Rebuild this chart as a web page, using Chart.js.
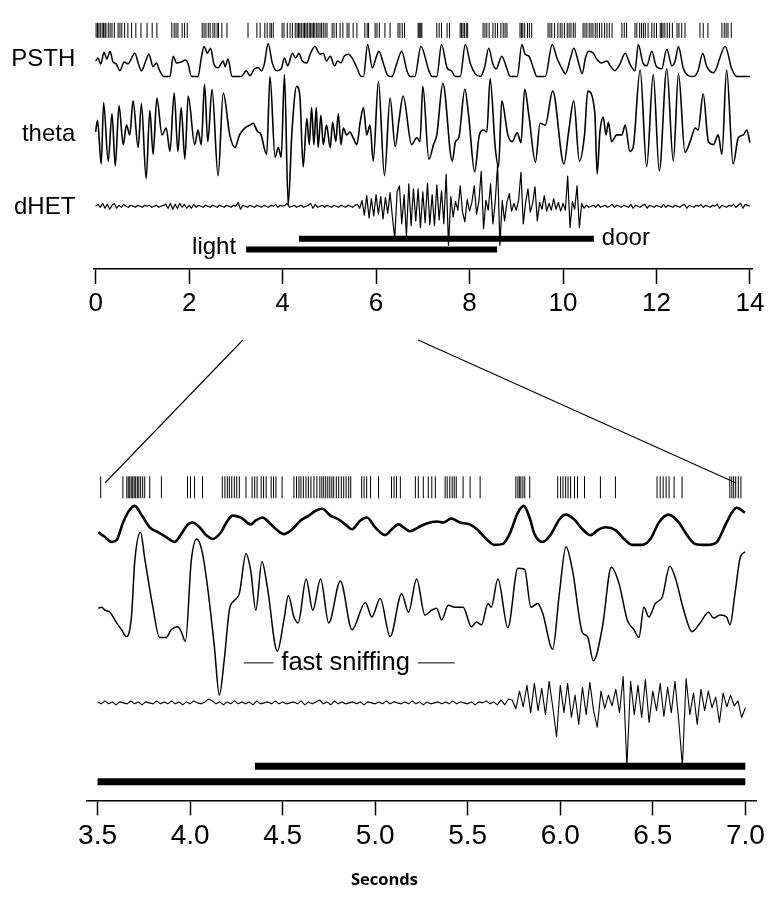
<!DOCTYPE html>
<html>
<head>
<meta charset="utf-8">
<title>PSTH, theta and dHET during light and door events</title>
<script src="https://cdn.jsdelivr.net/npm/chart.js@4.4.1/dist/chart.umd.min.js"></script>
<style>
  html, body { margin: 0; padding: 0; background: #fff; }
  #wrap { position: relative; width: 769px; height: 901px; }
  #topChart { position: absolute; left: 0; top: 0; }
  #zoomChart { position: absolute; left: 0; top: 330px; }
</style>
</head>
<body>
<div id="wrap">
  <canvas id="topChart" width="769" height="330"></canvas>
  <canvas id="zoomChart" width="769" height="571"></canvas>
</div>
<script>
// ---- values: time in s, amplitudes in arbitrary units ----
const topTicks = [0, 2, 4, 6, 8, 10, 12, 14];
const zoomTicks = [3.5, 4.0, 4.5, 5.0, 5.5, 6.0, 6.5, 7.0];

const doorOn = [4.35, 10.66];
const lightOn = [3.22, 8.59];
const zoomWindow = [3.5, 7.0];
const linkTop = [3.15, 6.90];     // where the zoom guide lines leave the top panel
const linkZoom = [3.54, 6.95];    // and where they meet the expanded panel
const sniffBracket = [4.29, 4.45, 5.23, 5.43];
const sniffLabelAt = 4.84;

const spikesTop = [0.01, 0.04, 0.07, 0.10, 0.14, 0.17, 0.20, 0.22, 0.27, 0.31, 0.35, 0.40, 0.48, 0.52,
  0.56, 0.62, 0.69, 0.77, 0.86, 0.97, 1.10, 1.21, 1.31, 1.63, 1.68, 1.72, 1.76, 1.85, 1.90, 1.96,
  2.28, 2.32, 2.36, 2.41, 2.45, 2.51, 2.55, 2.60, 2.63, 2.70, 2.81, 3.26, 3.45, 3.52, 3.62, 3.67,
  3.73, 3.76, 3.80, 3.99, 4.03, 4.10, 4.16, 4.21, 4.27, 4.31, 4.34, 4.37, 4.40, 4.44, 4.47, 4.50,
  4.53, 4.57, 4.60, 4.63, 4.66, 4.69, 4.73, 4.76, 4.80, 4.83, 4.87, 4.91, 4.95, 5.06, 5.10, 5.15,
  5.23, 5.29, 5.38, 5.42, 5.51, 5.59, 5.76, 5.81, 5.84, 5.98, 6.02, 6.07, 6.19, 6.30, 6.47, 6.51,
  6.56, 6.61, 6.90, 6.92, 6.94, 6.96, 6.98, 7.30, 7.35, 7.40, 7.52, 7.57, 7.80, 7.83, 7.86, 7.89,
  7.93, 7.96, 8.29, 8.33, 8.37, 8.42, 8.50, 8.55, 8.60, 8.67, 8.72, 8.76, 8.80, 9.08, 9.11, 9.14,
  9.18, 9.24, 9.28, 9.33, 9.68, 9.72, 9.76, 9.82, 9.89, 9.94, 9.98, 10.03, 10.09, 10.13, 10.17,
  10.22, 10.26, 10.43, 10.47, 10.51, 10.56, 10.60, 10.64, 10.69, 10.73, 10.78, 10.83, 10.89, 10.94,
  10.99, 11.05, 11.26, 11.31, 11.36, 11.54, 11.58, 11.64, 11.68, 11.72, 11.76, 11.82, 11.90, 11.95,
  12.00, 12.08, 12.11, 12.14, 12.18, 12.23, 12.28, 12.34, 12.44, 12.48, 12.54, 12.61, 12.93, 13.00,
  13.10, 13.40, 13.45, 13.49, 13.53, 13.60];

const psthTop = [[0.00,16],[0.05,19],[0.11,13],[0.18,25],[0.24,18],[0.31,26],[0.37,15],[0.44,13],
  [0.52,6],[0.61,15],[0.69,13],[0.84,24],[0.91,14],[0.98,6],[1.08,17],[1.14,23],[1.23,10],[1.30,14],
  [1.37,6],[1.46,0],[1.59,0],[1.66,21],[1.73,14],[1.83,15],[1.92,17],[1.98,13],[2.05,0],[2.19,0],
  [2.26,19],[2.32,31],[2.39,24],[2.46,29],[2.53,13],[2.62,9],[2.68,13],[2.73,16],[2.77,10],[2.83,18],
  [2.92,0],[3.12,0],[3.22,6],[3.30,1],[3.40,8],[3.48,9],[3.55,6],[3.61,13],[3.69,34],[3.78,14],
  [3.87,6],[3.97,8],[4.04,19],[4.11,11],[4.21,24],[4.28,19],[4.35,24],[4.42,16],[4.52,14],[4.59,23],
  [4.69,31],[4.80,23],[4.87,24],[4.94,16],[5.02,21],[5.11,11],[5.18,16],[5.25,14],[5.32,21],[5.41,23],
  [5.49,19],[5.59,9],[5.68,0],[5.73,0],[5.82,33],[5.92,9],[6.01,21],[6.06,26],[6.16,13],[6.25,1],
  [6.34,0],[6.44,13],[6.55,26],[6.66,6],[6.73,0],[6.83,0],[6.96,31],[7.13,6],[7.20,0],[7.30,0],
  [7.40,33],[7.52,9],[7.61,6],[7.70,0],[7.80,0],[7.91,33],[8.02,13],[8.12,3],[8.23,0],[8.32,9],
  [8.41,29],[8.50,13],[8.57,8],[8.69,21],[8.80,8],[8.87,0],[9.02,0],[9.12,33],[9.19,23],[9.27,21],
  [9.37,8],[9.44,0],[9.62,0],[9.77,33],[9.87,19],[9.98,8],[10.05,3],[10.16,19],[10.23,29],[10.34,13],
  [10.41,3],[10.48,19],[10.55,26],[10.65,24],[10.72,18],[10.83,14],[10.94,16],[11.01,11],[11.11,6],
  [11.22,13],[11.33,24],[11.43,13],[11.54,6],[11.61,33],[11.71,14],[11.79,11],[11.90,26],[11.99,11],
  [12.11,8],[12.22,28],[12.33,11],[12.40,16],[12.47,31],[12.57,9],[12.68,1],[12.79,0],[12.89,6],
  [12.99,24],[13.07,11],[13.22,4],[13.47,31],[13.61,8],[13.72,0],[14.00,0]];

const thetaTop = [[0.00,0],[0.04,12],[0.12,-33],[0.17,30],[0.27,-30],[0.35,19],[0.42,-35],[0.50,27],
  [0.59,-13],[0.66,7],[0.73,-3],[0.80,32],[0.91,-16],[0.98,29],[1.08,-48],[1.16,22],[1.23,-23],
  [1.31,35],[1.42,-3],[1.51,4],[1.59,-20],[1.68,40],[1.76,-20],[1.83,25],[1.91,-28],[1.98,37],
  [2.12,-13],[2.19,2],[2.26,-13],[2.33,49],[2.40,-10],[2.49,44],[2.62,-45],[2.73,40],[2.87,-3],
  [2.98,-16],[3.08,-3],[3.19,4],[3.30,7],[3.37,9],[3.47,0],[3.52,-1],[3.66,-23],[3.73,57],[3.84,-26],
  [3.91,-16],[3.97,-26],[4.04,59],[4.12,-75],[4.20,0],[4.30,47],[4.37,37],[4.44,-36],[4.52,14],
  [4.57,-13],[4.62,25],[4.67,-13],[4.72,25],[4.76,-16],[4.82,17],[4.87,-13],[4.94,7],[5.02,-16],
  [5.07,10],[5.14,-10],[5.19,19],[5.25,-13],[5.30,4],[5.37,-3],[5.44,0],[5.51,-6],[5.59,-13],
  [5.66,10],[5.73,25],[5.80,-3],[5.87,7],[5.94,-30],[6.05,52],[6.18,-45],[6.30,35],[6.41,-15],
  [6.49,12],[6.58,37],[6.76,-13],[6.87,-6],[6.94,-10],[7.00,47],[7.13,-28],[7.23,-13],[7.30,-3],
  [7.43,50],[7.63,-30],[7.70,-10],[7.77,-6],[7.90,44],[7.98,17],[8.11,-41],[8.21,-3],[8.30,2],
  [8.37,0],[8.44,55],[8.55,-16],[8.62,-36],[8.69,32],[8.82,-3],[8.91,-10],[9.02,-1],[9.10,-11],
  [9.18,44],[9.27,17],[9.41,-31],[9.51,9],[9.62,7],[9.78,42],[10.02,-33],[10.12,0],[10.23,32],
  [10.35,-30],[10.46,-3],[10.53,42],[10.68,20],[10.73,-43],[10.79,0],[10.86,15],[10.92,-3],
  [10.97,10],[11.04,-10],[11.15,-3],[11.26,-3],[11.33,7],[11.43,-20],[11.50,-16],[11.65,64],
  [11.79,-36],[11.93,59],[12.06,-40],[12.22,65],[12.36,-30],[12.47,60],[12.61,-21],[12.72,-10],
  [12.83,4],[12.89,2],[13.00,39],[13.11,-10],[13.22,-13],[13.32,-3],[13.40,-23],[13.50,64],
  [13.64,-33],[13.75,-6],[13.86,-3],[13.93,2],[14.00,-11]];

// dHET sampled every 0.05 s from 0 s
const dhetTopStep = 0.05;
const dhetTop = [0, 2, -1, 3, -2, 2, -3, 1, 3, -2, 1, -1, 2, 0, -1, 1, 0, -1, 1, 0,
  -1, 1, 0, 1, -1, 0, 1, -1, 0, 1, 2, -2, 3, -3, 2, -2, 3, -1, 2, -2,
  1, -2, 2, -1, 1, 0, -1, 1, 0, -1, 1, 0, -1, 1, 0, -1, 1, 0, -1, 1,
  0, 4, -3, 1, 0, -1, 1, 0, -1, 1, 0, -1, 1, 0, -1, 1, 0, 2, -1, 1,
  0, 1, 3, -1, 0, 1, -1, 0, 1, -1, 0, 1, 3, -2, 2, -1, 0, 1, -1, 1,
  0, -1, 1, 0, -1, 1, 0, -1, 1, 0, -1, 1, 2, -2, 6, -9, 11, -12, 8, -10,
  12, -8, 10, -13, 9, -7, 14, -11, -33, 15, 21, -18, 12, -30, 23, -20, 18, -15, 18, -22,
  15, -17, 24, -19, 12, -20, 22, -14, 16, -18, 33, -40, 10, -11, 5, -4, 21, -6, -16, 7,
  -5, 4, 21, -8, 5, 36, -23, 6, -4, 23, -18, 5, 43, -40, 6, -15, 4, 13, -5, 3,
  -4, 6, 35, -18, 4, 18, -6, 3, 20, -15, 4, -3, 11, -5, 3, -4, 8, -3, 4, -5,
  3, -4, 31, -22, 5, -3, 21, -22, 3, -2, 1, -1, 0, 1, -1, 2, -1, 0, 1, -1,
  0, 2, -1, 1, 0, -1, 1, 0, -1, 2, -2, 1, 0, -1, 1, 2, -2, 1, 0, -1,
  1, 0, -1, 2, -1, 1, 0, -1, 1, 0, -1, 1, 2, -2, 1, 0, -1, 1, 0, 2,
  -1, 1, 0, -1, 1, 0, 2, -2, 1, 0, -1, 1, 0, 2, -1, 1, 3, -2, 2, 1, 0];

const spikesZoom = [3.517, 3.637, 3.658, 3.666, 3.674, 3.682, 3.690, 3.698, 3.706, 3.715, 3.723,
  3.733, 3.744, 3.755, 3.782, 3.845, 3.986, 4.002, 4.024, 4.067, 4.174, 4.188, 4.201, 4.212, 4.225,
  4.239, 4.252, 4.266, 4.302, 4.335, 4.349, 4.362, 4.384, 4.397, 4.411, 4.438, 4.451, 4.464, 4.497,
  4.561, 4.575, 4.588, 4.599, 4.612, 4.626, 4.639, 4.653, 4.669, 4.685, 4.701, 4.712, 4.722, 4.733,
  4.744, 4.755, 4.766, 4.776, 4.790, 4.803, 4.817, 4.830, 4.843, 4.857, 4.868, 4.927, 4.940, 4.954,
  4.975, 5.018, 5.088, 5.102, 5.115, 5.136, 5.217, 5.233, 5.260, 5.287, 5.306, 5.325, 5.378, 5.389,
  5.403, 5.416, 5.427, 5.438, 5.475, 5.513, 5.567, 5.760, 5.771, 5.779, 5.787, 5.798, 5.808, 5.835,
  5.986, 6.002, 6.015, 6.029, 6.042, 6.056, 6.077, 6.093, 6.131, 6.217, 6.298, 6.523, 6.540, 6.556,
  6.572, 6.588, 6.615, 6.658, 6.916, 6.927, 6.937, 6.948, 6.962, 6.976];

const psthZoom = [[3.504,15],[3.540,10],[3.576,5],[3.603,7],[3.638,25],[3.674,38],[3.701,42],
  [3.737,33],[3.782,20],[3.826,15],[3.871,10],[3.916,5],[3.952,13],[3.988,23],[4.014,25],[4.051,20],
  [4.087,12],[4.122,8],[4.167,15],[4.203,27],[4.230,32],[4.275,30],[4.328,23],[4.355,27],[4.391,30],
  [4.427,25],[4.471,17],[4.507,13],[4.552,18],[4.597,27],[4.642,32],[4.678,37],[4.713,39],[4.759,32],
  [4.803,28],[4.839,23],[4.875,18],[4.920,27],[4.955,30],[5.000,20],[5.054,12],[5.090,18],[5.126,23],
  [5.153,20],[5.189,16],[5.233,20],[5.278,24],[5.332,26],[5.368,25],[5.412,29],[5.457,25],[5.511,23],
  [5.556,17],[5.600,8],[5.646,2],[5.690,3],[5.726,13],[5.771,35],[5.803,42],[5.834,30],[5.861,13],
  [5.905,5],[5.950,13],[5.995,28],[6.031,33],[6.076,28],[6.120,18],[6.165,12],[6.201,17],[6.246,20],
  [6.299,17],[6.345,8],[6.389,2],[6.443,2],[6.487,8],[6.533,25],[6.586,33],[6.640,25],[6.685,12],
  [6.729,3],[6.792,2],[6.846,5],[6.891,22],[6.927,35],[6.954,40],[6.998,35]];

const thetaZoom = [[3.504,2],[3.522,3],[3.540,0],[3.567,-2],[3.603,-13],[3.630,-20],[3.656,-27],
  [3.683,-7],[3.701,50],[3.732,80],[3.755,53],[3.799,3],[3.835,-28],[3.871,-28],[3.898,-20],
  [3.934,-17],[3.952,-22],[3.975,-32],[4.006,50],[4.036,73],[4.065,60],[4.095,23],[4.131,-37],
  [4.158,-87],[4.185,-50],[4.212,0],[4.239,10],[4.266,17],[4.302,58],[4.328,40],[4.355,0],[4.388,50],
  [4.418,23],[4.471,-42],[4.507,-10],[4.531,15],[4.561,-7],[4.584,-13],[4.627,32],[4.663,0],
  [4.705,32],[4.749,-13],[4.812,30],[4.875,-20],[4.947,8],[4.982,-7],[5.027,12],[5.081,-27],
  [5.143,17],[5.180,-2],[5.224,32],[5.269,-5],[5.305,0],[5.332,2],[5.359,-10],[5.395,5],[5.431,3],
  [5.475,3],[5.520,-17],[5.547,-12],[5.574,-15],[5.610,7],[5.627,3],[5.663,32],[5.717,-18],
  [5.771,43],[5.807,42],[5.842,3],[5.878,7],[5.905,-3],[5.959,-40],[5.995,17],[6.031,65],[6.067,40],
  [6.120,-23],[6.147,-27],[6.179,-52],[6.228,-17],[6.276,44],[6.318,27],[6.362,-10],[6.398,-20],
  [6.425,-28],[6.452,3],[6.479,-7],[6.514,7],[6.550,13],[6.592,45],[6.622,33],[6.667,0],[6.712,-22],
  [6.756,-13],[6.801,-2],[6.828,-8],[6.864,-5],[6.899,-7],[6.917,-15],[6.944,17],[6.971,53],[6.998,60]];

// dHET of the expanded window, sampled every 0.02 s from 3.5 s
const dhetZoomStep = 0.02;
const dhetZoom = [1, -1, 2, -1, 1, -2, 1, 0, -1, 2, -1, 1, -2, 1, 0, -1, 2, -1, 1, -1,
  2, -1, 1, -2, 1, -1, 2, 0, -1, 1, 4, 2, -1, 1, -2, 1, -1, 2, -1, 1,
  -1, 1, -2, 2, -1, 0, 1, -1, 2, -1, 1, -1, 0, 1, -1, 2, -2, 1, -1, 1,
  3, -1, 1, -2, 2, -1, 1, -1, 0, 1, -1, 1, -2, 1, 0, -1, 1, -1, 2, -1,
  1, 0, -1, 1, -1, 2, -1, 1, -2, 1, -1, 0, 1, -1, 1, -1, 2, -1, 1, 0,
  -1, 1, -2, 1, 0, 2, -1, 1, -2, 3, -2, 4, 3, -6, 12, -4, 18, -10, 20, -8,
  15, -12, 22, -5, -35, 18, -10, 20, -15, 8, -22, 16, -12, 21, -8, -25, 12, -6, 8, -3,
  14, -10, 27, -65, 22, -12, 18, -15, 24, -20, 12, -8, 20, -14, 16, -10, 22, -18, -65, 25,
  -12, 10, -22, 14, -8, 12, -5, 6, -20, 10, -4, 8, -3, 2, -15, -5];

// ---- drawing ----
const FONT = "'Liberation Sans', Arial, Helvetica, sans-serif";
const INK = '#000';
const TOP_AREA = 268;   // height of the top plot area, px
const ZOOM_AREA = 470;  // height of the expanded plot area, px
const LINK_Y0 = 10;     // zoom guide ends, in the lower canvas
const LINK_Y1 = 153;

// hidden linear axis putting value 0 on row `base`, 1 unit = 1 px
function band(base, area) {
  return { type: 'linear', display: false, min: base - area, max: base };
}

function timeAxis(min, max, ticks, size, fmt) {
  return {
    type: 'linear', min, max,
    afterBuildTicks: s => { s.ticks = ticks.map(v => ({ value: v })); },
    ticks: { color: INK, font: { family: FONT, size }, padding: 4, autoSkip: false, maxRotation: 0, callback: fmt },
    grid: { display: true, drawOnChartArea: false, drawTicks: true, tickLength: 15, tickWidth: 1.5, tickColor: INK },
    border: { display: true, color: INK, width: 1.5 }
  };
}

const pairs = list => list.map(p => ({ x: p[0], y: p[1] }));
const sampled = (vals, t0, dt) => vals.map((v, i) => ({ x: t0 + i * dt, y: v }));

function lineSet(data, axis, width, smooth) {
  return {
    data, yAxisID: axis, borderColor: INK, borderWidth: width, pointRadius: 0, pointHoverRadius: 0,
    tension: 0, cubicInterpolationMode: smooth ? 'monotone' : 'default', fill: false, spanGaps: false,
    borderCapStyle: 'butt', borderJoinStyle: 'round'
  };
}

function rasterSet(times, axis, half) {
  return {
    data: times.map(t => ({ x: t, y: 0 })), yAxisID: axis, showLine: false,
    pointStyle: 'line', pointRotation: 90, pointRadius: half, pointHoverRadius: half,
    pointBorderWidth: 1, pointBorderColor: INK, pointBackgroundColor: INK
  };
}

function epochSet(range, axis, width) {
  return lineSet([{ x: range[0], y: 0 }, { x: range[1], y: 0 }], axis, width, false);
}

const clipTo = (r, w) => [Math.max(r[0], w[0]), Math.min(r[1], w[1])];

const traceNames = [
  { text: 'PSTH', axis: 'yPsth', level: 18 },
  { text: 'theta', axis: 'yTheta', level: -3 },
  { text: 'dHET', axis: 'yDhet', level: -1.5 }
];

const topText = {
  id: 'topText',
  afterDraw(chart) {
    const { ctx, chartArea, scales } = chart;
    ctx.save();
    ctx.fillStyle = INK;
    ctx.font = '24px ' + FONT;
    ctx.textBaseline = 'middle';
    ctx.textAlign = 'right';
    traceNames.forEach(n => ctx.fillText(n.text, chartArea.left - 18, scales[n.axis].getPixelForValue(n.level)));
    ctx.fillText('light', scales.x.getPixelForValue(lightOn[0]) - 10, scales.yLight.getPixelForValue(2));
    ctx.textAlign = 'left';
    ctx.fillText('door', scales.x.getPixelForValue(doorOn[1]) + 8, scales.yDoor.getPixelForValue(1));
    ctx.restore();
  }
};

let topChart;

const zoomText = {
  id: 'zoomText',
  afterDraw(chart) {
    const { ctx, scales } = chart;
    ctx.save();
    ctx.fillStyle = INK;
    ctx.font = '25.5px ' + FONT;
    ctx.textBaseline = 'middle';
    ctx.textAlign = 'center';
    ctx.fillText('fast sniffing', scales.x.getPixelForValue(sniffLabelAt), scales.yNote.getPixelForValue(0));
    // axis name, centred on the figure
    ctx.font = "bold 16.5px 'Open Sans', 'DejaVu Sans', sans-serif";
    ctx.fillText('Seconds', chart.width / 2, chart.height - 21);
    // guide lines from the top time axis down to the expanded window
    ctx.strokeStyle = INK;
    ctx.lineWidth = 1.1;
    for (let i = 0; i < 2; i++) {
      ctx.beginPath();
      ctx.moveTo(topChart.scales.x.getPixelForValue(linkTop[i]), LINK_Y0);
      ctx.lineTo(scales.x.getPixelForValue(linkZoom[i]), LINK_Y1);
      ctx.stroke();
    }
    ctx.restore();
  }
};

const baseOptions = {
  responsive: false, animation: false, events: [],
  plugins: { legend: { display: false }, tooltip: { enabled: false } }
};

topChart = new Chart(document.getElementById('topChart'), {
  type: 'line',
  data: {
    datasets: [
      rasterSet(spikesTop, 'yRaster', 7.5),
      lineSet(pairs(psthTop), 'yPsth', 1.5, true),
      lineSet(pairs(thetaTop), 'yTheta', 1.6, true),
      lineSet(sampled(dhetTop, 0, dhetTopStep), 'yDhet', 1.2, false),
      epochSet(doorOn, 'yDoor', 6),
      epochSet(lightOn, 'yLight', 6)
    ]
  },
  options: {
    ...baseOptions,
    layout: { padding: { left: 93.3, right: 16.7, top: 0, bottom: 6.8 } },
    scales: {
      x: timeAxis(-0.05, 14.05, topTicks, 26, v => String(v)),
      yRaster: band(22.5, TOP_AREA),
      yPsth: band(70, TOP_AREA),
      yTheta: band(127, TOP_AREA),
      yDhet: band(203.5, TOP_AREA),
      yDoor: band(237, TOP_AREA),
      yLight: band(248, TOP_AREA)
    }
  },
  plugins: [topText]
});

new Chart(document.getElementById('zoomChart'), {
  type: 'line',
  data: {
    datasets: [
      rasterSet(spikesZoom, 'yRaster', 11),
      lineSet(pairs(psthZoom), 'yPsth', 2.6, true),
      lineSet(pairs(thetaZoom), 'yTheta', 1.5, true),
      lineSet([
        { x: sniffBracket[0], y: 0 }, { x: sniffBracket[1], y: 0 },
        { x: sniffLabelAt, y: null },
        { x: sniffBracket[2], y: 0 }, { x: sniffBracket[3], y: 0 }
      ], 'yNote', 1, false),
      lineSet(sampled(dhetZoom, zoomWindow[0], dhetZoomStep), 'yDhet', 1.1, false),
      epochSet(clipTo(doorOn, zoomWindow), 'yDoor', 7),
      epochSet(clipTo(lightOn, zoomWindow), 'yLight', 7)
    ]
  },
  options: {
    ...baseOptions,
    layout: { padding: { left: 86.45, right: 9.85, top: 0, bottom: 44 } },
    scales: {
      x: timeAxis(3.44, 7.06, zoomTicks, 28, v => v.toFixed(1)),
      yRaster: band(149, ZOOM_AREA),
      yPsth: band(210, ZOOM_AREA),
      yTheta: band(275, ZOOM_AREA),
      yNote: band(329, ZOOM_AREA),
      yDhet: band(370, ZOOM_AREA),
      yDoor: band(435, ZOOM_AREA),
      yLight: band(451, ZOOM_AREA)
    }
  },
  plugins: [zoomText]
});
</script>
</body>
</html>
